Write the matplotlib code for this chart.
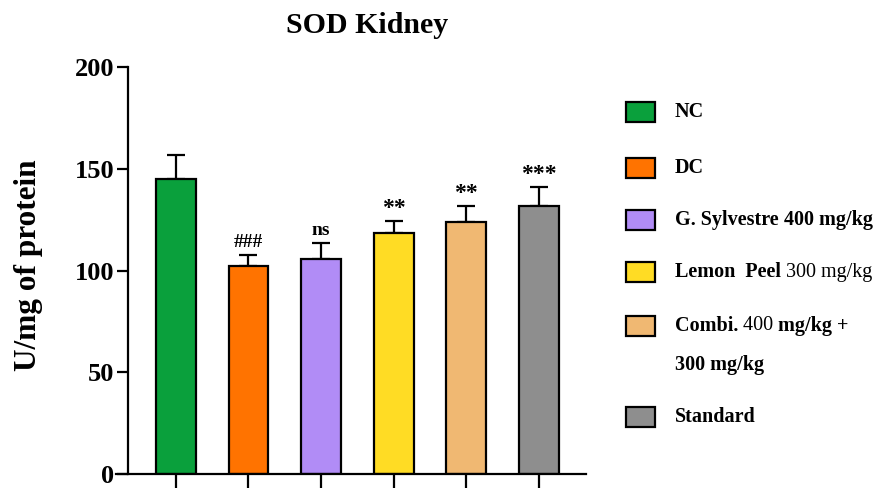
import matplotlib
matplotlib.use("Agg")
import matplotlib.pyplot as plt
from matplotlib.patches import Rectangle

categories = ["NC", "DC", "G. Sylvestre 400 mg/kg", "Lemon Peel 300 mg/kg",
              "Combi. 400 mg/kg + 300 mg/kg", "Standard"]
means = [145, 102, 105.5, 118.5, 124, 131.5]
sems = [12, 5.5, 8, 6, 7.5, 9.5]
annotations = ["", "###", "ns", "**", "**", "***"]
colors = ["#0aa03c", "#ff7300", "#b18cf6", "#ffdc24", "#f0b872", "#8e8e8e"]
yticks = [0, 50, 100, 150, 200]

# legend label pieces: (text, weight); lists of lines
legend_pieces = [
    [[("NC", "bold")]],
    [[("DC", "bold")]],
    [[("G. Sylvestre ", "bold"), ("400 mg/kg", "bold")]],
    [[("Lemon  Peel ", "bold"), ("300 mg/kg", "normal")]],
    [[("Combi. ", "bold"), ("400 ", "normal"), ("mg/kg +", "bold")],
     [("300 mg/kg", "bold")]],
    [[("Standard", "bold")]],
]

W, H = 882, 488
fig = plt.figure(figsize=(W / 100, H / 100), dpi=100)
plt.rcParams['font.family'] = ['Liberation Serif', 'DejaVu Serif']

def fx(x):
    return x / W

def fy(y):
    return 1 - y / H

ax = fig.add_axes([fx(128), fy(474), fx(586) - fx(128), fy(67) - fy(474)])
x = list(range(len(categories)))
ax.bar(x, means, width=0.55, color=colors, edgecolor="black", linewidth=1.6, zorder=2)
ax.errorbar(x, means, yerr=[[0] * len(sems), sems], fmt="none", ecolor="black",
            elinewidth=1.6, capsize=6.5, capthick=1.6, zorder=1)
for xi, m, s, a in zip(x, means, sems, annotations):
    if a:
        star = a.startswith("*")
        ax.annotate(a, (xi, m + s), xytext=(0, 5 if star else 6), textcoords="offset points",
                    ha="center", va="baseline", fontsize=17 if star else 14,
                    fontweight="bold")

ax.set_xlim(-0.66, 5.65)
ax.set_ylim(0, 200)
ax.set_yticks(yticks)
ax.set_yticklabels([str(t) for t in yticks], fontsize=19, fontweight="bold")
ax.set_xticks(x)
ax.set_xticklabels([])
ax.tick_params(axis="y", length=8, width=1.6, pad=2)
ax.tick_params(axis="x", length=10, width=1.6)
for sp in ["top", "right"]:
    ax.spines[sp].set_visible(False)
for sp in ["left", "bottom"]:
    ax.spines[sp].set_linewidth(1.6)
ax.spines["bottom"].set_bounds(-0.66 - 0.16, 5.65)
ax.spines["bottom"].set_clip_on(False)
ax.set_ylabel("U/mg of protein", fontsize=22.5, fontweight="bold")
ax.yaxis.set_label_coords((43 - 128) / 458, 0.513)
fig.text(fx(367), fy(33), "SOD Kidney", fontsize=21.5, fontweight="bold",
         ha="center", va="baseline")

# manual legend
renderer = fig.canvas.get_renderer()
row_y = [112, 168, 220, 272, 326, 417]
line_gap = 39
for pieces, c, yc in zip(legend_pieces, colors, row_y):
    fig.patches.append(Rectangle((fx(626), fy(yc + 10)), fx(29), fy(yc - 10) - fy(yc + 10),
                                 transform=fig.transFigure, facecolor=c,
                                 edgecolor="black", linewidth=1.6))
    for li, line in enumerate(pieces):
        xpos = 675
        ypos = yc + li * line_gap
        for txt, wt in line:
            t = fig.text(fx(xpos), fy(ypos), txt, fontsize=14.5, fontweight=wt,
                         ha="left", va="center")
            bb = t.get_window_extent(renderer=renderer)
            xpos += bb.width

fig.savefig("out.png", dpi=100, facecolor="white")
